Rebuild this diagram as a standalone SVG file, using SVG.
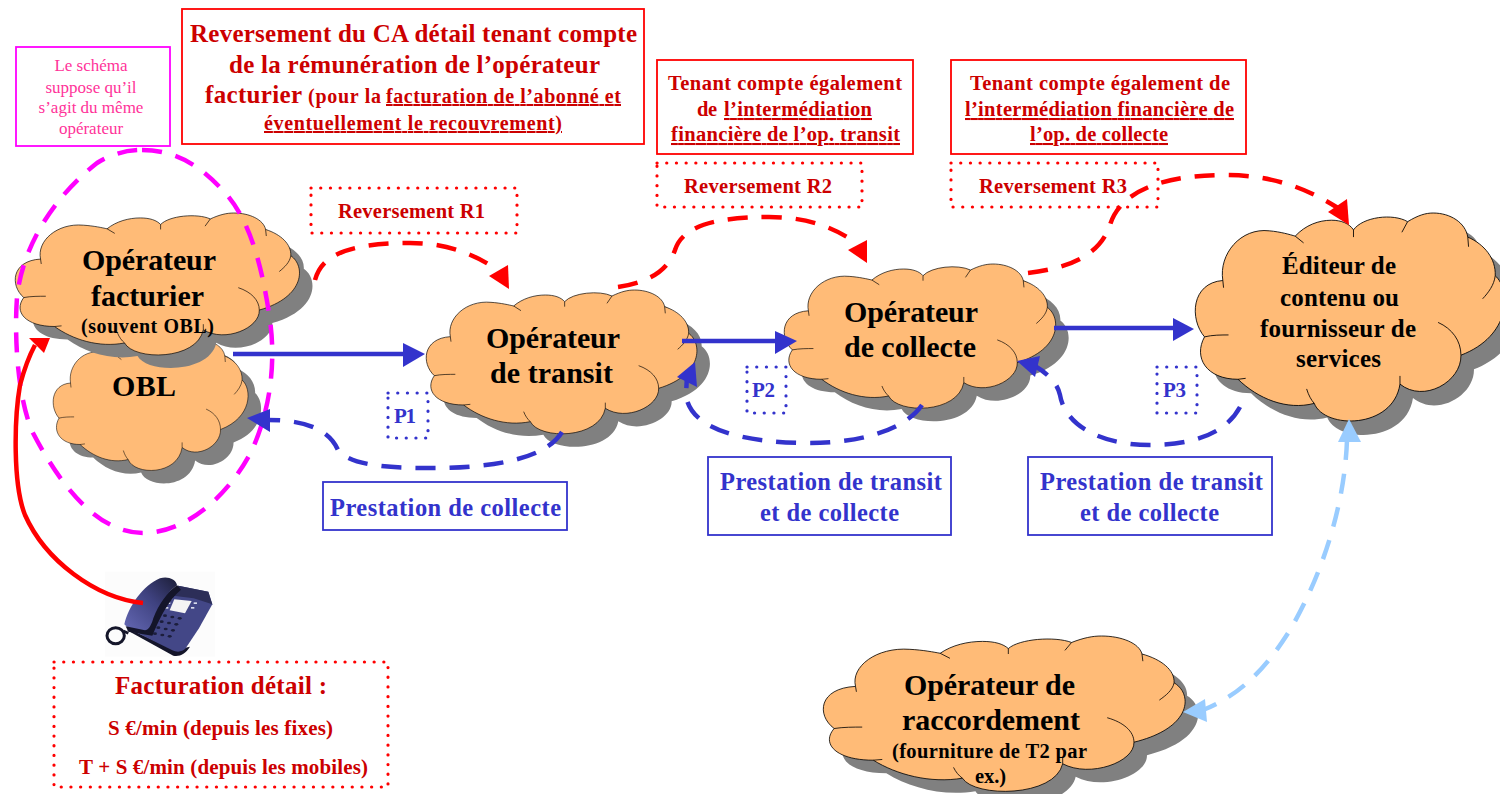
<svg xmlns="http://www.w3.org/2000/svg" width="1500" height="794" viewBox="0 0 1500 794">
<style>
text{font-family:"Liberation Serif","Times New Roman",serif;font-weight:bold;text-anchor:start}
.k{fill:#000}.r{fill:#cc0000}.b{fill:#3333cc}
.m{fill:#ff3399;font-weight:normal;text-anchor:middle;font-size:17px}
.u{text-decoration:underline}
.cb{fill:#ffbb77;stroke:#000;stroke-width:2;vector-effect:non-scaling-stroke}
.cs{fill:#808080;stroke:none}
.ct{fill:none;stroke:#000;stroke-width:2;vector-effect:non-scaling-stroke}
.box{fill:none;stroke-width:1.8}
.dot{fill:none;stroke-width:3.2;stroke-linecap:round;stroke-dasharray:0.1 9.6}
.dash{fill:none;stroke-width:4.5;stroke-dasharray:20 14}
.line{fill:none;stroke-width:4.5}
</style>
<defs>
<path id="cloudBody" d="M73,140 C62,85 120,30 195,37 C225,39 250,45 263,48 C290,25 325,15 358,15 C385,15 405,22 416,35 C440,8 520,0 558,18 C585,5 605,0 625,0 C670,0 710,20 716,50 C760,65 790,95 788,130 C830,160 830,255 698,295 C700,350 600,395 538,355 C520,449 340,449 313,395 C240,410 165,385 113,345 C30,345 -5,300 25,257 C-15,220 -10,145 73,140 Z"/>
<path id="cloudTails" d="M73,140 L75,155 M263,48 L285,62 M416,35 L416,50 M558,18 L543,40 M716,50 L718,70 M788,130 C785,150 770,165 755,178 M638,227 C675,240 698,265 698,295 M538,355 L538,338 M293,365 C298,378 305,388 313,395 M113,345 L133,343 M25,257 C45,253 70,253 88,253"/>
<linearGradient id="hs" x1="0" y1="1" x2="1" y2="0"><stop offset="0" stop-color="#6468b4"/><stop offset="0.55" stop-color="#3f4280"/><stop offset="1" stop-color="#1c1e38"/></linearGradient>
</defs>
<rect width="1500" height="794" fill="#fff"/>

<g id="note-meme-operateur">
<rect class="box" x="16" y="47" width="154" height="99" stroke="#ff00ff"/>
<text class="m" x="91" y="71">Le schéma</text>
<text class="m" x="91" y="93">suppose qu’il</text>
<text class="m" x="91" y="113">s’agit du même</text>
<text class="m" x="91" y="134">opérateur</text>
</g>
<g id="note-ca">
<rect class="box" x="182" y="9" width="462" height="135" stroke="#ff0000"/>
<text class="r" x="190" y="42" font-size="25" textLength="447">Reversement du CA détail tenant compte</text>
<text class="r" x="229" y="73" font-size="25" textLength="371">de la rémunération de l’opérateur</text>
<text class="r" x="205" y="103" font-size="25" textLength="97">facturier</text>
<text class="r" x="308" y="103" font-size="20" textLength="73">(pour la</text>
<text class="r u" x="386" y="103" font-size="20" textLength="235">facturation de l’abonné et</text>
<text class="r u" x="264" y="130" font-size="20" textLength="298">éventuellement le recouvrement)</text>
</g>
<g id="note-transit">
<rect class="box" x="657" y="60" width="256" height="94" stroke="#ff0000"/>
<text class="r" x="668" y="90" font-size="20.5" textLength="234">Tenant compte également</text>
<text class="r" x="697" y="116" font-size="20.5" textLength="20">de</text>
<text class="r u" x="724" y="116" font-size="20.5" textLength="148">l’intermédiation</text>
<text class="r u" x="671" y="141" font-size="20.5" textLength="229">financière de l’op. transit</text>
</g>
<g id="note-collecte">
<rect class="box" x="951" y="60" width="295" height="94" stroke="#ff0000"/>
<text class="r" x="970" y="90" font-size="20.5" textLength="260">Tenant compte également de</text>
<text class="r u" x="965" y="116" font-size="20.5" textLength="269">l’intermédiation financière de</text>
<text class="r u" x="1030" y="141" font-size="20.5" textLength="138">l’op. de collecte</text>
</g>
<g id="label-r1">
<rect class="dot" x="311" y="188" width="206" height="45" stroke="#ff0000"/>
<text class="r" x="338" y="218" font-size="20.5" textLength="147">Reversement R1</text>
</g>
<g id="label-r2">
<rect class="dot" x="657" y="163" width="205" height="44" stroke="#ff0000"/>
<text class="r" x="684" y="193" font-size="20.5" textLength="148">Reversement R2</text>
</g>
<g id="label-r3">
<rect class="dot" x="951" y="163" width="207" height="44" stroke="#ff0000"/>
<text class="r" x="979" y="193" font-size="20.5" textLength="148">Reversement R3</text>
</g>
<g id="label-p1">
<rect class="dot" x="388" y="393" width="40" height="45" stroke="#3333cc"/>
<text class="b" x="394" y="423" font-size="21" textLength="22">P1</text>
</g>
<g id="label-p2">
<rect class="dot" x="747" y="367" width="39" height="46" stroke="#3333cc"/>
<text class="b" x="752" y="397" font-size="21" textLength="23">P2</text>
</g>
<g id="label-p3">
<rect class="dot" x="1157" y="367" width="40" height="46" stroke="#3333cc"/>
<text class="b" x="1163" y="397" font-size="21" textLength="23">P3</text>
</g>
<g id="prestation-1">
<rect class="box" x="323" y="482" width="244" height="48" stroke="#3333cc"/>
<text class="b" x="330" y="516" font-size="24.5" textLength="231">Prestation de collecte</text>
</g>
<g id="prestation-2">
<rect class="box" x="708" y="457" width="243" height="78" stroke="#3333cc"/>
<text class="b" x="720" y="490" font-size="24.5" textLength="222">Prestation de transit</text>
<text class="b" x="760" y="521" font-size="24.5" textLength="139">et de collecte</text>
</g>
<g id="prestation-3">
<rect class="box" x="1028" y="457" width="244" height="78" stroke="#3333cc"/>
<text class="b" x="1040" y="490" font-size="24.5" textLength="223">Prestation de transit</text>
<text class="b" x="1080" y="521" font-size="24.5" textLength="139">et de collecte</text>
</g>

<g id="cloud-obl">
<use href="#cloudBody" class="cs" transform="translate(66,354) scale(.24,.30)"/>
<use href="#cloudBody" class="cb" transform="translate(53,341) scale(.24,.30)"/>
<use href="#cloudTails" class="ct" transform="translate(53,341) scale(.24,.30)"/>
<text class="k" x="112" y="396" font-size="30" textLength="64">OBL</text>
</g>
<g id="cloud-facturier">
<use href="#cloudBody" class="cs" transform="translate(28,226) scale(.35,.329)"/>
<use href="#cloudBody" class="cb" transform="translate(15,213) scale(.35,.329)"/>
<use href="#cloudTails" class="ct" transform="translate(15,213) scale(.35,.329)"/>
<text class="k" x="82" y="270" font-size="30" textLength="134">Opérateur</text>
<text class="k" x="91" y="306" font-size="30" textLength="113">facturier</text>
<text class="k" x="81" y="333" font-size="20" textLength="133">(souvent OBL)</text>
</g>
<g id="cloud-transit">
<use href="#cloudBody" class="cs" transform="translate(439,303) scale(.3333)"/>
<use href="#cloudBody" class="cb" transform="translate(426,290) scale(.3333)"/>
<use href="#cloudTails" class="ct" transform="translate(426,290) scale(.3333)"/>
<text class="k" x="486" y="348" font-size="30" textLength="134">Opérateur</text>
<text class="k" x="490" y="383" font-size="30" textLength="123">de transit</text>
</g>
<g id="cloud-collecte">
<use href="#cloudBody" class="cs" transform="translate(797,277) scale(.3342)"/>
<use href="#cloudBody" class="cb" transform="translate(784,264) scale(.3342)"/>
<use href="#cloudTails" class="ct" transform="translate(784,264) scale(.3342)"/>
<text class="k" x="844" y="322" font-size="30" textLength="134">Opérateur</text>
<text class="k" x="844" y="357" font-size="30" textLength="132">de collecte</text>
</g>
<g id="cloud-editeur">
<use href="#cloudBody" class="cs" transform="translate(1208,227) scale(.381,.482)"/>
<use href="#cloudBody" class="cb" transform="translate(1195,213) scale(.381,.482)"/>
<use href="#cloudTails" class="ct" transform="translate(1195,213) scale(.381,.482)"/>
<text class="k" x="1282" y="274" font-size="25" textLength="114">Éditeur de</text>
<text class="k" x="1280" y="306" font-size="25" textLength="119">contenu ou</text>
<text class="k" x="1260" y="337" font-size="25" textLength="156">fournisseur de</text>
<text class="k" x="1296" y="367" font-size="25" textLength="85">services</text>
</g>
<g id="cloud-raccordement">
<use href="#cloudBody" class="cs" transform="translate(836,649) scale(.4455,.36)"/>
<use href="#cloudBody" class="cb" transform="translate(823,636) scale(.4455,.36)"/>
<use href="#cloudTails" class="ct" transform="translate(823,636) scale(.4455,.36)"/>
<text class="k" x="904" y="695" font-size="30" textLength="171">Opérateur de</text>
<text class="k" x="902" y="730" font-size="30" textLength="178">raccordement</text>
<text class="k" x="892" y="758" font-size="20.5" textLength="195">(fourniture de T2 par</text>
<text class="k" x="975" y="783" font-size="20.5" textLength="31">ex.)</text>
</g>

<g id="telephone" transform="translate(95,565) scale(.3333)">
<rect x="30" y="20" width="330" height="255" fill="#fcfcfc"/>
<path d="M95,195 L235,272 C255,275 270,268 285,245 L240,255 L130,205 Z" fill="#14152a"/>
<path d="M120,200 L190,100 L250,62 L340,80 L352,118 L312,190 L272,250 C262,262 245,262 232,256 Z" fill="#434787"/>
<path d="M250,62 L340,80 L352,118 L296,100 L235,92 Z" fill="#2c2e58"/>
<path d="M238,103 L290,108 L270,145 L224,136 Z" fill="#f4f4f4"/>
<g fill="#d8dcec"><rect x="222" y="98" width="10" height="5"/><rect x="216" y="112" width="10" height="5"/><rect x="210" y="126" width="10" height="5"/><rect x="296" y="112" width="10" height="5"/><rect x="288" y="126" width="10" height="5"/></g>
<g fill="#1c1e3c"><ellipse cx="210" cy="152" rx="6" ry="4"/><ellipse cx="232" cy="156" rx="6" ry="4"/><ellipse cx="254" cy="160" rx="6" ry="4"/><ellipse cx="200" cy="170" rx="6" ry="4"/><ellipse cx="222" cy="174" rx="6" ry="4"/><ellipse cx="244" cy="178" rx="6" ry="4"/><ellipse cx="190" cy="188" rx="6" ry="4"/><ellipse cx="212" cy="192" rx="6" ry="4"/><ellipse cx="234" cy="196" rx="6" ry="4"/><ellipse cx="180" cy="206" rx="6" ry="4"/><ellipse cx="202" cy="210" rx="6" ry="4"/><ellipse cx="224" cy="214" rx="6" ry="4"/></g>
<path d="M88,178 C100,125 145,60 195,40 C218,33 242,42 246,60 C215,85 192,115 175,160 C168,185 160,195 150,196 C125,198 100,192 88,178 Z" fill="url(#hs)"/>
<path d="M246,60 C215,85 192,115 175,160 C168,185 160,195 150,196 L92,184 L100,200 L172,212 C190,170 215,110 258,74 Z" fill="#14152a"/>
<ellipse cx="62" cy="212" rx="26" ry="24" fill="none" stroke="#15162a" stroke-width="9"/>
<path d="M85,198 L100,205" stroke="#15162a" stroke-width="8" fill="none"/>
</g>

<g id="connectors">
<path class="dash" stroke="#ff00ff" d="M142,150 C180,150 205,170 227,195 C250,222 262,265 270,320 C276,365 270,410 252,450 C232,490 190,533 143,533 C105,533 68,500 33,433 C18,400 14,340 17,297 C22,250 50,200 97,163 C115,152 130,150 142,150 Z"/>
<path class="line" stroke="#ff0000" d="M143,603 C95,598 45,560 25,515 C13,485 14,420 20,385 C24,370 28,358 35,345"/>
<polygon fill="#ff0000" points="50,338 29,338 44,353"/>
<path class="dash" stroke="#ff0000" d="M315,280 C320,262 335,243 410,243 C445,243 470,253 490,265"/>
<polygon fill="#ff0000" points="508,265 489,276 509,289"/>
<path class="dash" stroke="#ff0000" d="M618,287 C650,282 668,270 675,250 C682,228 710,217 769,217 C805,217 830,226 852,240"/>
<polygon fill="#ff0000" points="867,240 848,250 867,263"/>
<path class="dash" stroke="#ff0000" d="M1028,273 C1070,268 1100,255 1110,225 C1118,198 1150,175 1225,175 C1270,175 1305,187 1338,208"/>
<polygon fill="#ff0000" points="1347,199 1328,212 1349,225"/>
<path class="line" stroke="#3333cc" d="M233,354 H405"/>
<polygon fill="#3333cc" points="403,343 425,354 403,367"/>
<path class="line" stroke="#3333cc" d="M682,341 H777"/>
<polygon fill="#3333cc" points="775,331 797,341 775,354"/>
<path class="line" stroke="#3333cc" d="M1054,328 H1175"/>
<polygon fill="#3333cc" points="1173,318 1194,329 1173,341"/>
<path class="dash" stroke="#3333cc" d="M562,432 C545,460 490,468 430,468 C385,468 350,465 338,450 C330,432 310,420 268,420"/>
<polygon fill="#3333cc" points="247,418 270,409 270,432"/>
<path class="dash" stroke="#3333cc" d="M922,405 C905,430 860,443 810,443 C745,443 690,430 686,395 L687,375"/>
<polygon fill="#3333cc" points="695,362 677,377 697,387"/>
<path class="dash" stroke="#3333cc" d="M1240,407 C1225,435 1190,445 1150,445 C1100,445 1065,425 1060,395 C1058,385 1050,375 1035,366"/>
<polygon fill="#3333cc" points="1017,361 1040,356 1035,377"/>
<path class="dash" stroke="#99ccff" d="M1347,440 C1345,500 1325,570 1290,630 C1265,670 1240,695 1203,710"/>
<polygon fill="#99ccff" points="1349,419 1338,442 1361,442"/>
<polygon fill="#99ccff" points="1183,712 1205,699 1207,722"/>
</g>

<g id="facturation">
<rect class="dot" x="54" y="662" width="334" height="125" stroke="#ff0000"/>
<text class="r" x="115" y="694" font-size="25" textLength="212">Facturation détail :</text>
<text class="r" x="108" y="735" font-size="21" textLength="225">S €/min (depuis les fixes)</text>
<text class="r" x="79" y="774" font-size="21" textLength="289">T + S €/min (depuis les mobiles)</text>
</g>
</svg>
